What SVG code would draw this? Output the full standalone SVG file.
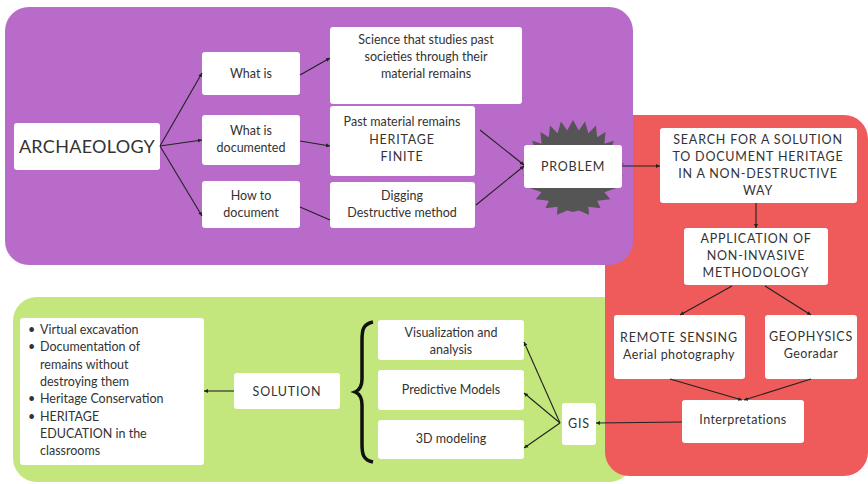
<svg xmlns="http://www.w3.org/2000/svg" width="868" height="484" viewBox="0 0 868 484">
<style>
.box{fill:#fff;stroke:none}
text{font-family:Lato,"Open Sans","Liberation Sans",sans-serif;font-size:12.5px;fill:#333;text-anchor:middle}
.up{letter-spacing:0.8px}
.l{text-anchor:start}
.cn{fill:none;stroke:#222;stroke-width:1.1}
.arr{marker-end:url(#ah)}
</style>
<defs>
<marker id="ah" markerWidth="5" markerHeight="5" refX="4" refY="2.5" orient="auto" markerUnits="userSpaceOnUse">
<path d="M0,0.5 L4,2.5 L0,4.5 z" fill="#222"/>
</marker>
</defs>
<rect id="green-panel" x="13" y="297" width="620" height="185" rx="24" fill="#c3e67d"/>
<rect id="red-panel" x="605" y="115" width="263" height="361" rx="24" fill="#ef5a5a"/>
<rect id="purple-panel" x="5" y="7" width="628" height="258" rx="24" fill="#b86bc8"/>

<g id="archaeology"><rect class="box" x="14" y="123" width="146" height="47" rx="3"/><text x="87" y="153" style="font-size:18px;letter-spacing:0.3px">ARCHAEOLOGY</text></g>
<g id="what-is"><rect class="box" x="202" y="52" width="98" height="43" rx="3"/><text x="251" y="78">What is</text></g>
<g id="science"><rect class="box" x="330" y="27" width="192" height="77" rx="3"/><text x="426" y="44">Science that studies past</text><text x="426" y="61">societies through their</text><text x="426" y="78">material remains</text></g>
<g id="what-is-documented"><rect class="box" x="202" y="115" width="98" height="50" rx="3"/><text x="251" y="135">What is</text><text x="251" y="152">documented</text></g>
<g id="past-material"><rect class="box" x="330" y="106" width="145" height="70" rx="3"/><text x="402" y="126">Past material remains</text><text x="402" y="144" class="up">HERITAGE</text><text x="402" y="161" class="up">FINITE</text></g>
<g id="how-to-document"><rect class="box" x="202" y="181" width="98" height="47" rx="3"/><text x="251" y="200">How to</text><text x="251" y="217">document</text></g>
<g id="digging"><rect class="box" x="330" y="182" width="145" height="46" rx="3"/><text x="402" y="200">Digging</text><text x="402" y="217">Destructive method</text></g>
<g id="problem"><polygon fill="#555" points="573,120 578.8,130.5 585,121.6 588.4,133.2 596,125.4 597.1,137.3 605.6,131.9 604.4,143.8 613.8,140.8 610.3,152.3 620.1,151.5 614.7,162 624.2,163.6 614.7,170 622.9,175.7 610.3,181.7 617.8,187.6 604.4,192.2 610.3,199.2 597.1,200.7 600.6,208.3 588.4,206.8 589,214.7 578.8,210.5 573,212 567.2,210.5 557,214.7 557.6,206.8 545.4,208.3 548.9,200.7 535.7,199.2 541.6,192.2 528.2,187.6 535.7,181.7 523.1,175.7 531.3,170 521.8,163.6 531.3,162 525.9,151.5 535.7,152.3 532.2,140.8 541.6,143.8 540.4,131.9 548.9,137.3 550,125.4 557.6,133.2 561,121.6 567.2,130.5"/><rect class="box" x="524" y="145" width="98" height="43" rx="3"/><text x="573" y="171" class="up">PROBLEM</text></g>
<g id="search"><rect class="box" x="660" y="128" width="197" height="75" rx="3"/><text x="758" y="144" class="up">SEARCH FOR A SOLUTION</text><text x="758" y="161" class="up">TO DOCUMENT HERITAGE</text><text x="758" y="178" class="up">IN A NON-DESTRUCTIVE</text><text x="758" y="195" class="up">WAY</text></g>
<g id="application"><rect class="box" x="684" y="228" width="144" height="57" rx="3"/><text x="756" y="243" class="up">APPLICATION OF</text><text x="756" y="260" class="up">NON-INVASIVE</text><text x="756" y="277" class="up">METHODOLOGY</text></g>
<g id="remote-sensing"><rect class="box" x="614" y="315" width="131" height="64" rx="3"/><text x="679" y="342" class="up">REMOTE SENSING</text><text x="679" y="359" style="letter-spacing:0.4px">Aerial photography</text></g>
<g id="geophysics"><rect class="box" x="765" y="315" width="92" height="64" rx="3"/><text x="811" y="341" class="up">GEOPHYSICS</text><text x="811" y="358" style="letter-spacing:0.4px">Georadar</text></g>
<g id="interpretations"><rect class="box" x="682" y="400" width="122" height="43" rx="3"/><text x="743" y="424" style="letter-spacing:0.4px">Interpretations</text></g>
<g id="gis"><rect class="box" x="562" y="403" width="34" height="42" rx="3"/><text x="579" y="428" class="up">GIS</text></g>
<g id="visualization"><rect class="box" x="378" y="320" width="146" height="40" rx="3"/><text x="451" y="337">Visualization and</text><text x="451" y="354">analysis</text></g>
<g id="predictive"><rect class="box" x="378" y="370" width="146" height="40" rx="3"/><text x="451" y="394">Predictive Models</text></g>
<g id="modeling"><rect class="box" x="378" y="420" width="146" height="39" rx="3"/><text x="451" y="443">3D modeling</text></g>
<g id="brace"><path d="M373,322 C363,324 362,330 362,340 L362,379 C362,386 360,390 355,392 C360,394 362,398 362,405 L362,444 C362,454 363,460 373,462" fill="none" stroke="#111" stroke-width="3.5"/></g>
<g id="solution"><rect class="box" x="234" y="373" width="106" height="36" rx="3"/><text x="287" y="396" class="up">SOLUTION</text></g>
<g id="outcomes"><rect class="box" x="20" y="318" width="184" height="147" rx="3"/>
<text x="28" y="334" class="l">•</text><text x="40" y="334" class="l">Virtual excavation</text>
<text x="28" y="351" class="l">•</text><text x="40" y="351" class="l">Documentation of</text>
<text x="40" y="369" class="l">remains without</text>
<text x="40" y="386" class="l">destroying them</text>
<text x="28" y="403" class="l">•</text><text x="40" y="403" class="l">Heritage Conservation</text>
<text x="28" y="421" class="l">•</text><text x="40" y="421" class="l">HERITAGE</text>
<text x="40" y="438" class="l">EDUCATION in the</text>
<text x="40" y="455" class="l">classrooms</text>
</g>

<g id="connectors">
<path class="cn arr" d="M160,146 L202,73"/>
<path class="cn arr" d="M160,146 L202,140"/>
<path class="cn arr" d="M160,146 L202,216"/>
<path class="cn arr" d="M300,75 L330,58"/>
<path class="cn arr" d="M300,141 L330,146"/>
<path class="cn" d="M300,207 L330,220"/>
<path class="cn arr" d="M480,130 L524,165"/>
<path class="cn arr" d="M476,205 L524,166"/>
<path class="cn arr" d="M622,166 L660,166"/>
<path class="cn arr" d="M756,203 L756,228"/>
<path class="cn arr" d="M732,286 L680,315"/>
<path class="cn arr" d="M765,286 L811,315"/>
<path class="cn arr" d="M670,379 L742,400"/>
<path class="cn arr" d="M811,379 L744,400"/>
<path class="cn arr" d="M682,422 L596,423"/>
<path class="cn arr" d="M560,423 L524,342"/>
<path class="cn arr" d="M560,423 L524,393"/>
<path class="cn arr" d="M560,423 L524,448"/>
<path class="cn arr" d="M234,391 L204,391"/>
</g>
</svg>
